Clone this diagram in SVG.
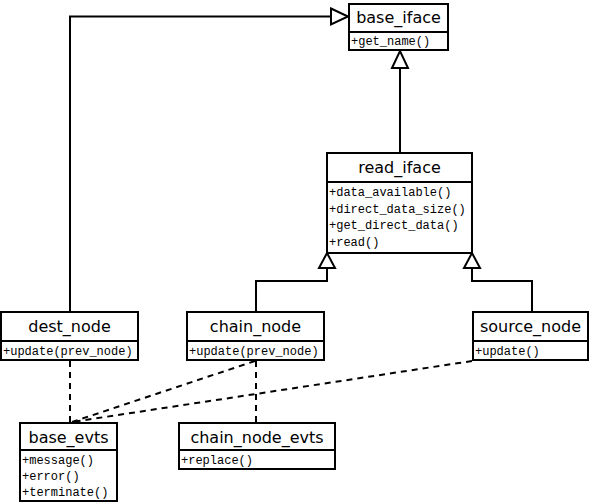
<svg xmlns="http://www.w3.org/2000/svg" width="591" height="503" viewBox="0 0 591 503">
<style>
.box{fill:#fff;stroke:#000;stroke-width:2}
.ln{fill:none;stroke:#000;stroke-width:2}
.dash{fill:none;stroke:#000;stroke-width:2;stroke-dasharray:6,5}
.tri{fill:#fff;stroke:#000;stroke-width:2}
.t{font-family:"DejaVu Sans",sans-serif;font-size:16px;text-anchor:middle}
.m{font-family:"Liberation Mono",monospace;font-size:12px}
</style>
<rect width="591" height="503" fill="#fff"/>
<g id="connectors">
<polyline class="ln" points="70,312 70,16.5 331,16.5"/>
<polygon class="tri" points="331,8.5 348,16.5 331,24.5"/>
<line class="ln" x1="400" y1="68" x2="400" y2="153"/>
<polygon class="tri" points="392,68 400,51 408,68"/>
<polyline class="ln" points="256,312 256,281 327,281 327,268"/>
<polygon class="tri" points="319,268 327,253 335,268"/>
<polyline class="ln" points="532,312 532,281 472,281 472,268"/>
<polygon class="tri" points="464,268 472,253 480,268"/>
<line class="dash" x1="70" y1="361" x2="70" y2="423"/>
<line class="dash" x1="255" y1="361" x2="72" y2="422"/>
<line class="dash" x1="472" y1="361" x2="72" y2="422"/>
<line class="dash" x1="256" y1="361" x2="256" y2="423"/>
</g>
<g id="base_iface">
<rect class="box" x="349" y="4" width="99" height="46"/>
<line class="ln" x1="349" y1="32" x2="448" y2="32"/>
<text class="t" x="398.5" y="23">base_iface</text>
<text class="m" x="351" y="45">+get_name()</text>
</g>
<g id="read_iface">
<rect class="box" x="327" y="153" width="145" height="100"/>
<line class="ln" x1="327" y1="182" x2="472" y2="182"/>
<text class="t" x="399.5" y="173">read_iface</text>
<text class="m" x="329" y="196">+data_available()</text>
<text class="m" x="329" y="213">+direct_data_size()</text>
<text class="m" x="329" y="229">+get_direct_data()</text>
<text class="m" x="329" y="246">+read()</text>
</g>
<g id="dest_node">
<rect class="box" x="1" y="312" width="137" height="48"/>
<line class="ln" x1="1" y1="341" x2="138" y2="341"/>
<text class="t" x="69.5" y="332">dest_node</text>
<text class="m" x="3" y="355">+update(prev_node)</text>
</g>
<g id="chain_node">
<rect class="box" x="187" y="312" width="137" height="48"/>
<line class="ln" x1="187" y1="341" x2="324" y2="341"/>
<text class="t" x="255.5" y="332">chain_node</text>
<text class="m" x="189" y="355">+update(prev_node)</text>
</g>
<g id="source_node">
<rect class="box" x="473" y="312" width="115" height="48"/>
<line class="ln" x1="473" y1="341" x2="588" y2="341"/>
<text class="t" x="530.5" y="332">source_node</text>
<text class="m" x="475" y="355">+update()</text>
</g>
<g id="base_evts">
<rect class="box" x="20" y="423" width="97" height="78"/>
<line class="ln" x1="20" y1="450" x2="117" y2="450"/>
<text class="t" x="68.5" y="443">base_evts</text>
<text class="m" x="22" y="464">+message()</text>
<text class="m" x="22" y="480">+error()</text>
<text class="m" x="22" y="496">+terminate()</text>
</g>
<g id="chain_node_evts">
<rect class="box" x="179" y="423" width="156" height="46"/>
<line class="ln" x1="179" y1="450" x2="335" y2="450"/>
<text class="t" x="257" y="443">chain_node_evts</text>
<text class="m" x="181" y="464">+replace()</text>
</g>
</svg>
